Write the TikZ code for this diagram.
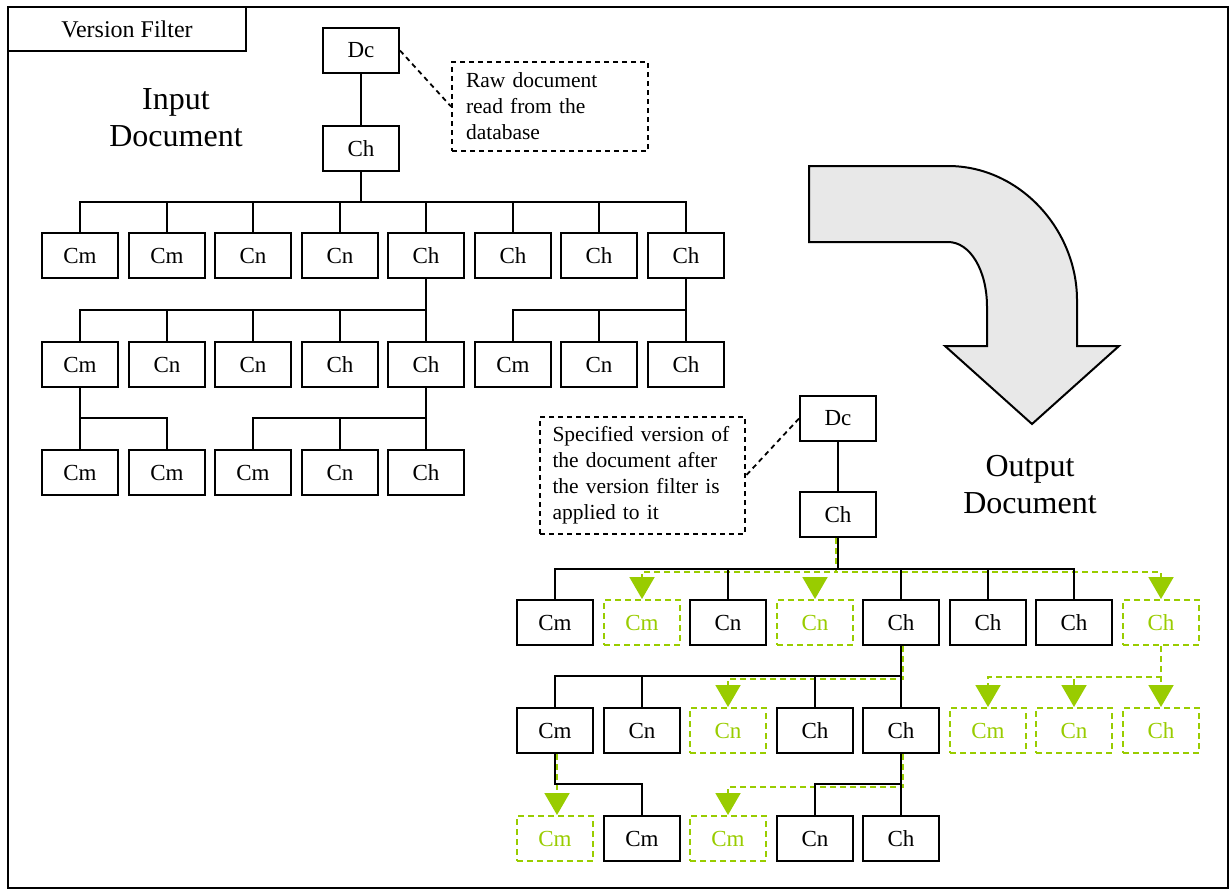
\documentclass[tikz,border=0pt]{standalone}
\usepackage{fontspec}
\setmainfont{Liberation Serif}
\usetikzlibrary{arrows.meta,calc}
\definecolor{vgreen}{HTML}{99CC00}
\definecolor{arrowgray}{HTML}{E8E8E8}
\begin{document}
\begin{tikzpicture}[x=1pt,y=-1pt,
  box/.style={draw, line width=2pt, minimum width=76pt, minimum height=45pt, inner sep=0pt, font=\fontsize{23}{27}\selectfont},
  gbox/.style={box, draw=vgreen, text=vgreen, dash pattern=on 6pt off 4pt},
  link/.style={line width=2pt},
  glink/.style={draw=vgreen, line width=2pt, dash pattern=on 6pt off 4pt, -{Triangle[length=22pt,width=25pt]}},
  callout/.style={draw, line width=2pt, dash pattern=on 5pt off 4pt, align=left, font=\fontsize{21.5}{26}\selectfont, inner ysep=0pt},
  note/.style={line width=1.8pt, dash pattern=on 5pt off 4pt},
  title/.style={align=center, font=\fontsize{32}{37}\selectfont}
]
\useasboundingbox (0,0) rectangle (1230,891);
\draw[line width=2pt] (8,7) rectangle (1228,888);
\node[draw, line width=2pt, minimum width=238pt, minimum height=44pt, inner sep=0pt, font=\fontsize{24}{28}\selectfont] (vf) at (127,29) {Version Filter};

% big curved arrow
\draw[line width=2pt, fill=arrowgray] (809,166) -- (948,166)
  .. controls (1020,166) and (1077,230) .. (1077,300) -- (1077,346) -- (1119,346)
  -- (1032,424) -- (945,346) -- (987,346) -- (987,307)
  .. controls (987,270) and (970,242) .. (948,242) -- (809,242) -- cycle;

\node[title] (tin) at (176,118) {Input\\Document};
\node[title] (tout) at (1030,485) {Output\\Document};

% ---------- input tree ----------
\node[box] (iDc) at (361,50.5) {Dc};
\node[box] (iCh) at (361,148.5) {Ch};
\node[box] (i1a) at (80,255.5) {Cm};
\node[box] (i1b) at (167,255.5) {Cm};
\node[box] (i1c) at (253,255.5) {Cn};
\node[box] (i1d) at (340,255.5) {Cn};
\node[box] (i1e) at (426,255.5) {Ch};
\node[box] (i1f) at (513,255.5) {Ch};
\node[box] (i1g) at (599,255.5) {Ch};
\node[box] (i1h) at (686,255.5) {Ch};
\node[box] (i2a) at (80,364.5) {Cm};
\node[box] (i2b) at (167,364.5) {Cn};
\node[box] (i2c) at (253,364.5) {Cn};
\node[box] (i2d) at (340,364.5) {Ch};
\node[box] (i2e) at (426,364.5) {Ch};
\node[box] (i2f) at (513,364.5) {Cm};
\node[box] (i2g) at (599,364.5) {Cn};
\node[box] (i2h) at (686,364.5) {Ch};
\node[box] (i3a) at (80,472.5) {Cm};
\node[box] (i3b) at (167,472.5) {Cm};
\node[box] (i3c) at (253,472.5) {Cm};
\node[box] (i3d) at (340,472.5) {Cn};
\node[box] (i3e) at (426,472.5) {Ch};

\node[callout, minimum width=196pt, minimum height=89pt, text width=168pt, inner xsep=14pt] (co1) at (550,106.5) {Raw document\\read from the\\database};
\draw[note] (iDc.east) -- (co1.west);

\draw[link] (iDc) -- (iCh);
\coordinate (ib0) at (361,202);
\foreach \c in {i1a,i1b,i1c,i1d,i1e,i1f,i1g,i1h} \draw[link] (iCh.south) -- (ib0) -| (\c.north);
\coordinate (ib1) at (426,310);
\foreach \c in {i2a,i2b,i2c,i2d,i2e} \draw[link] (i1e.south) -- (ib1) -| (\c.north);
\coordinate (ib2) at (686,310);
\foreach \c in {i2f,i2g,i2h} \draw[link] (i1h.south) -- (ib2) -| (\c.north);
\coordinate (ib3) at (80,418);
\foreach \c in {i3a,i3b} \draw[link] (i2a.south) -- (ib3) -| (\c.north);
\coordinate (ib4) at (426,418);
\foreach \c in {i3c,i3d,i3e} \draw[link] (i2e.south) -- (ib4) -| (\c.north);

% ---------- output tree ----------
\node[box] (oDc) at (838,418.5) {Dc};
\node[box] (oCh) at (838,514.5) {Ch};
\node[box]  (o1a) at (555,622.5) {Cm};
\node[gbox] (o1b) at (642,622.5) {Cm};
\node[box]  (o1c) at (728,622.5) {Cn};
\node[gbox] (o1d) at (815,622.5) {Cn};
\node[box]  (o1e) at (901,622.5) {Ch};
\node[box]  (o1f) at (988,622.5) {Ch};
\node[box]  (o1g) at (1074,622.5) {Ch};
\node[gbox] (o1h) at (1161,622.5) {Ch};
\node[box]  (o2a) at (555,730.5) {Cm};
\node[box]  (o2b) at (642,730.5) {Cn};
\node[gbox] (o2c) at (728,730.5) {Cn};
\node[box]  (o2d) at (815,730.5) {Ch};
\node[box]  (o2e) at (901,730.5) {Ch};
\node[gbox] (o2f) at (988,730.5) {Cm};
\node[gbox] (o2g) at (1074,730.5) {Cn};
\node[gbox] (o2h) at (1161,730.5) {Ch};
\node[gbox] (o3a) at (555,838.5) {Cm};
\node[box]  (o3b) at (642,838.5) {Cm};
\node[gbox] (o3c) at (728,838.5) {Cm};
\node[box]  (o3d) at (815,838.5) {Cn};
\node[box]  (o3e) at (901,838.5) {Ch};

\node[callout, minimum width=205pt, minimum height=117pt, text width=180pt, inner xsep=12.5pt] (co2) at (642.5,475.5) {Specified version of\\the document after\\the version filter is\\applied to it};
\draw[note] (oDc.west) -- (co2.east);

% green (filtered) connectors first
\coordinate (gb0) at (836,572);
\foreach \c in {o1b,o1d,o1h} \draw[glink] ($(oCh.south)+(-2,0)$) -- (gb0) -| (\c.north);
\coordinate (gb1) at (903,679);
\draw[glink] ($(o1e.south)+(2,0)$) -- (gb1) -| (o2c.north);
\coordinate (gb2) at (1161,677);
\foreach \c in {o2f,o2g,o2h} \draw[glink] (o1h.south) -- (gb2) -| (\c.north);
\draw[glink] ($(o2a.south)+(2,0)$) -- ($(o3a.north)+(2,0)$);
\coordinate (gb4) at (903,787);
\draw[glink] ($(o2e.south)+(2,0)$) -- (gb4) -| (o3c.north);

% black connectors
\draw[link] (oDc) -- (oCh);
\coordinate (ob0) at (838,569);
\foreach \c in {o1a,o1c,o1e,o1f,o1g} \draw[link] (oCh.south) -- (ob0) -| (\c.north);
\coordinate (ob1) at (901,676);
\foreach \c in {o2a,o2b,o2d,o2e} \draw[link] (o1e.south) -- (ob1) -| (\c.north);
\coordinate (ob3) at (555,784);
\draw[link] (o2a.south) -- (ob3) -| (o3b.north);
\coordinate (ob4) at (901,784);
\foreach \c in {o3d,o3e} \draw[link] (o2e.south) -- (ob4) -| (\c.north);
\end{tikzpicture}
\end{document}
